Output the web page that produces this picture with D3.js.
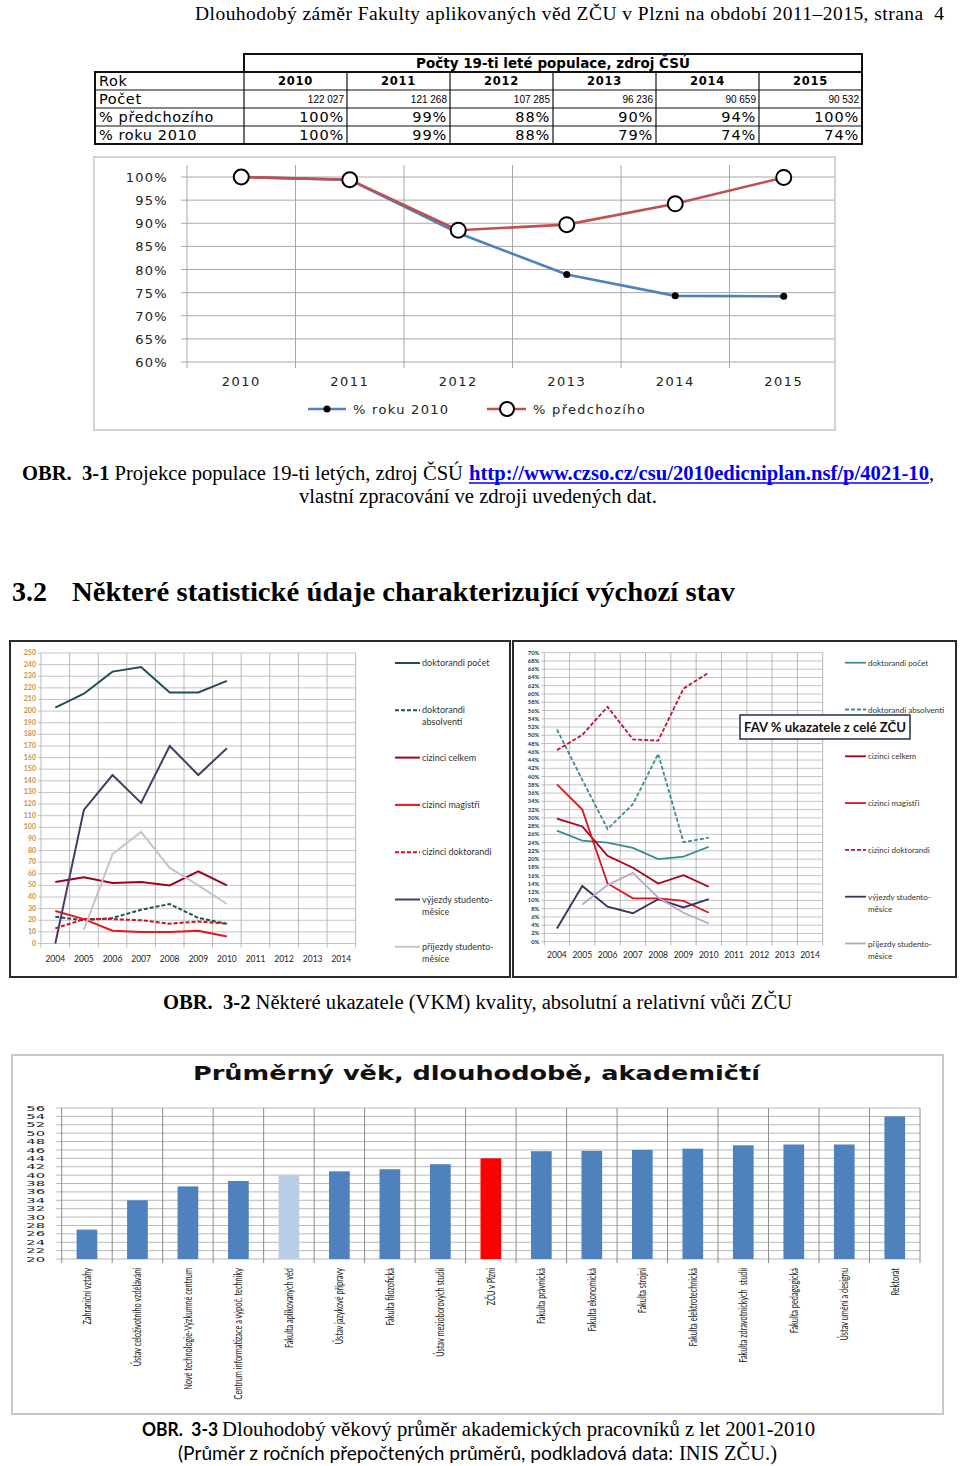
<!DOCTYPE html>
<html>
<head>
<meta charset="utf-8">
<script src="https://cdn.jsdelivr.net/npm/d3@7"></script>
<style>
body { margin: 0; background: #fff; }
svg { display: block; }
text { white-space: pre; }
</style>
</head>
<body>
<div id="page"></div>
<script>
const W = 960, H = 1466;
const SERIF = "'Liberation Serif', 'Times New Roman', serif";
const WIDE = "'DejaVu Sans', Verdana, sans-serif";
const SANS = "Lato, 'Open Sans', sans-serif";

// table + chart 3-1
const popYears = ["2010", "2011", "2012", "2013", "2014", "2015"];
const popCounts = ["122 027", "121 268", "107 285", "96 236", "90 659", "90 532"];
const pctPrevLabels = ["100%", "99%", "88%", "90%", "94%", "100%"];
const pct2010Labels = ["100%", "99%", "88%", "79%", "74%", "74%"];
const pctPrev = [1.000, 0.994, 0.885, 0.897, 0.942, 0.999];
const pct2010 = [1.000, 0.994, 0.879, 0.789, 0.743, 0.742];
const pctTicks = [0.60, 0.65, 0.70, 0.75, 0.80, 0.85, 0.90, 0.95, 1.00];

// chart 3-2 (two panels)
const vkmYears = ["2004", "2005", "2006", "2007", "2008", "2009", "2010", "2011", "2012", "2013", "2014"];
const vkmNames = ["doktorandi počet", "doktorandi absolventi", "cizinci celkem", "cizinci magistři",
    "cizinci doktorandi", "výjezdy studento-měsíce", "příjezdy studento-měsíce"];
const absTicks = d3.range(0, 251, 10);
const absDoktPocet = [203, 215, 234, 238, 216, 216, 226];
const absDoktAbsol = [23, 20, 22, 29, 34, 22, 17];
const absCizCelkem = [53, 57, 52, 53, 50, 62, 50];
const absCizMag = [28, 21, 11, 10, 10, 11, 6];
const absCizDokt = [13, 21, 21, 20, 17, 19, 17];
const absVyjezdy = [0, 115, 145, 121, 170, 145, 168];
const absPrijezdy = [null, 12, 77, 96, 65, 50, 34];

const relTicks = d3.range(0, 71, 2);
const relDoktPocet = [26.9, 24.5, 24.0, 22.7, 20.0, 20.6, 23.0];
const relDoktAbsol = [51.4, 39.2, 27.3, 33.3, 45.5, 24.1, 25.2];
const relCizCelkem = [29.8, 27.9, 20.8, 17.9, 14.1, 16.1, 13.3];
const relCizMag = [38.1, 32.0, 14.1, 10.5, 10.5, 9.9, 7.0];
const relCizDokt = [46.4, 50.1, 56.9, 49.0, 48.7, 61.3, 65.2];
const relVyjezdy = [3.2, 13.5, 8.5, 6.9, 10.3, 8.3, 10.3];
const relPrijezdy = [null, 9.0, 13.7, 16.7, 10.7, 7.0, 4.4];

// chart 3-3
const ageUnits = ["Zahraniční vztahy", "Ústav celoživotního vzdělávání", "Nové technologie-Výzkumné centrum",
    "Centrum informatizace a výpoč. techniky", "Fakulta aplikovaných věd", "Ústav jazykové přípravy",
    "Fakulta filozofická", "Ústav mezioborových studií", "ZČU v Plzni", "Fakulta právnická",
    "Fakulta ekonomická", "Fakulta strojní", "Fakulta elektrotechnická", "Fakulta zdravotnických  studií",
    "Fakulta pedagogická", "Ústav umění a designu", "Rektorát"];
const ageValues = [27.0, 34.0, 37.3, 38.6, 40.0, 40.9, 41.4, 42.6, 44.0, 45.7, 45.8, 46.0, 46.3, 47.1, 47.3, 47.3, 54.0];
const ageTicks = d3.range(20, 57, 2);

var svg = d3.select("#page").append("svg")
    .attr("width", W)
    .attr("height", H);
svg.append("rect").attr("width", W).attr("height", H).attr("fill", "#fff");

// page header
svg.append("text")
    .attr("x", 195).attr("y", 20)
    .attr("font-family", SERIF).attr("font-size", 19.5)
    .attr("textLength", 749).attr("lengthAdjust", "spacing")
    .text("Dlouhodobý záměr Fakulty aplikovaných věd ZČU v Plzni na období 2011–2015, strana  4");

// ---------- table ----------
var tx = d3.scaleBand().domain(popYears).range([244, 862]);
var rowTop = [72, 90, 108, 126];
var rowLabels = ["Rok", "Počet", "% předchozího", "% roku 2010"];
var tbl = svg.append("g").attr("stroke", "#111").attr("fill", "none");
tbl.append("rect").attr("x", 244).attr("y", 54).attr("width", 618).attr("height", 18).attr("stroke-width", 2);
tbl.append("rect").attr("x", 95).attr("y", 72).attr("width", 767).attr("height", 72).attr("stroke-width", 2);
rowTop.slice(1).forEach(function(y){
    tbl.append("line").attr("x1", 95).attr("x2", 862).attr("y1", y).attr("y2", y).attr("stroke-width", 1.2);
});
popYears.forEach(function(d){
    tbl.append("line").attr("x1", tx(d)).attr("x2", tx(d)).attr("y1", 72).attr("y2", 144).attr("stroke-width", 1.2);
});

svg.append("text")
    .attr("x", 553).attr("y", 68)
    .attr("text-anchor", "middle")
    .attr("font-family", WIDE).attr("font-size", 13.5).attr("font-weight", "bold")
    .text("Počty 19-ti leté populace, zdroj ČSÚ");

rowLabels.forEach(function(l, i){
    svg.append("text")
        .attr("x", 99).attr("y", rowTop[i] + 14)
        .attr("font-family", WIDE).attr("font-size", 14.5).attr("letter-spacing", 0.6)
        .text(l);
});

var cells = svg.append("g");
popYears.forEach(function(d, i){
    var right = tx(d) + tx.bandwidth() - 3;
    cells.append("text")
        .attr("x", tx(d) + tx.bandwidth() / 2).attr("y", rowTop[0] + 13)
        .attr("text-anchor", "middle")
        .attr("font-family", WIDE).attr("font-size", 11.5).attr("font-weight", "bold").attr("letter-spacing", 0.8)
        .text(d);
    cells.append("text")
        .attr("x", right).attr("y", rowTop[1] + 13)
        .attr("text-anchor", "end")
        .attr("font-family", "'Liberation Sans', Arial, sans-serif").attr("font-size", 10)
        .text(popCounts[i]);
    cells.append("text")
        .attr("x", right).attr("y", rowTop[2] + 14)
        .attr("text-anchor", "end")
        .attr("font-family", WIDE).attr("font-size", 14.5).attr("letter-spacing", 0.8)
        .text(pctPrevLabels[i]);
    cells.append("text")
        .attr("x", right).attr("y", rowTop[3] + 14)
        .attr("text-anchor", "end")
        .attr("font-family", WIDE).attr("font-size", 14.5).attr("letter-spacing", 0.8)
        .text(pct2010Labels[i]);
});

// ---------- chart 3-1 ----------
var c1 = svg.append("g");
c1.append("rect")
    .attr("x", 94).attr("y", 157).attr("width", 741).attr("height", 273)
    .attr("fill", "none").attr("stroke", "#d2d2d2").attr("stroke-width", 2);

var px = d3.scaleBand().domain(popYears).range([187, 838]);
var py = d3.scaleLinear().domain([0.6, 1.0]).range([362, 177]);

c1.selectAll(".hgrid").data(pctTicks).enter().append("line")
    .attr("x1", 181).attr("x2", 834)
    .attr("y1", function(d){ return py(d); }).attr("y2", function(d){ return py(d); })
    .attr("stroke", "#a8a8a8").attr("stroke-width", 1);
c1.selectAll(".vgrid").data(popYears).enter().append("line")
    .attr("x1", function(d){ return px(d); }).attr("x2", function(d){ return px(d); })
    .attr("y1", 165).attr("y2", 368)
    .attr("stroke", "#a8a8a8").attr("stroke-width", 1);

c1.selectAll(".ylab").data(pctTicks).enter().append("text")
    .attr("x", 168).attr("y", function(d){ return py(d) + 5; })
    .attr("text-anchor", "end")
    .attr("font-family", WIDE).attr("font-size", 13).attr("letter-spacing", 1.3).attr("fill", "#222")
    .text(d3.format(".0%"));
c1.selectAll(".xlab").data(popYears).enter().append("text")
    .attr("x", function(d){ return px(d) + px.bandwidth() / 2; }).attr("y", 386)
    .attr("text-anchor", "middle")
    .attr("font-family", WIDE).attr("font-size", 13).attr("letter-spacing", 1.5).attr("fill", "#222")
    .text(function(d){ return d; });

var pline = d3.line()
    .x(function(d, i){ return px(popYears[i]) + px.bandwidth() / 2; })
    .y(function(d){ return py(d); });
c1.append("path").datum(pct2010).attr("d", pline)
    .attr("fill", "none").attr("stroke", "#4F81BD").attr("stroke-width", 2.6);
c1.append("path").datum(pctPrev).attr("d", pline)
    .attr("fill", "none").attr("stroke", "#C0504D").attr("stroke-width", 2.6);
c1.selectAll(".dot").data(pct2010).enter().append("circle")
    .attr("cx", function(d, i){ return px(popYears[i]) + px.bandwidth() / 2; })
    .attr("cy", function(d){ return py(d); })
    .attr("r", 3.5).attr("fill", "#000");
c1.selectAll(".ring").data(pctPrev).enter().append("circle")
    .attr("cx", function(d, i){ return px(popYears[i]) + px.bandwidth() / 2; })
    .attr("cy", function(d){ return py(d); })
    .attr("r", 7.5).attr("fill", "#fff").attr("stroke", "#000").attr("stroke-width", 2);

// legend
c1.append("line").attr("x1", 308).attr("x2", 346).attr("y1", 409).attr("y2", 409)
    .attr("stroke", "#4F81BD").attr("stroke-width", 2.6);
c1.append("circle").attr("cx", 327).attr("cy", 409).attr("r", 3.5).attr("fill", "#000");
c1.append("text").attr("x", 353).attr("y", 414)
    .attr("font-family", WIDE).attr("font-size", 13).attr("letter-spacing", 1.3).attr("fill", "#222")
    .text("% roku 2010");
c1.append("line").attr("x1", 487).attr("x2", 526).attr("y1", 409).attr("y2", 409)
    .attr("stroke", "#C0504D").attr("stroke-width", 2.6);
c1.append("circle").attr("cx", 507).attr("cy", 409).attr("r", 7).attr("fill", "#fff")
    .attr("stroke", "#000").attr("stroke-width", 2);
c1.append("text").attr("x", 533).attr("y", 414)
    .attr("font-family", WIDE).attr("font-size", 13).attr("letter-spacing", 1.3).attr("fill", "#222")
    .text("% předchozího");

// caption 3-1
var cap1 = svg.append("text")
    .attr("x", 22).attr("y", 480)
    .attr("font-family", SERIF).attr("font-size", 20)
    .attr("textLength", 441).attr("lengthAdjust", "spacingAndGlyphs");
cap1.append("tspan").attr("font-weight", "bold").text("OBR.  3-1");
cap1.append("tspan").text(" Projekce populace 19-ti letých, zdroj ČSÚ");
svg.append("text")
    .attr("x", 469).attr("y", 480)
    .attr("font-family", SERIF).attr("font-size", 20).attr("font-weight", "bold").attr("fill", "#0000EE")
    .attr("textLength", 460).attr("lengthAdjust", "spacingAndGlyphs")
    .text("http://www.czso.cz/csu/2010edicniplan.nsf/p/4021-10");
svg.append("line").attr("x1", 469).attr("x2", 929).attr("y1", 483).attr("y2", 483)
    .attr("stroke", "#0000EE").attr("stroke-width", 1.3);
svg.append("text").attr("x", 929).attr("y", 480)
    .attr("font-family", SERIF).attr("font-size", 20).text(",");
svg.append("text")
    .attr("x", 299).attr("y", 503)
    .attr("font-family", SERIF).attr("font-size", 20)
    .attr("textLength", 358).attr("lengthAdjust", "spacingAndGlyphs")
    .text("vlastní zpracování ve zdroji uvedených dat.");

// section heading
svg.append("text").attr("x", 12).attr("y", 601)
    .attr("font-family", SERIF).attr("font-size", 28).attr("font-weight", "bold")
    .text("3.2");
svg.append("text").attr("x", 72).attr("y", 601)
    .attr("font-family", SERIF).attr("font-size", 28).attr("font-weight", "bold")
    .attr("textLength", 663).attr("lengthAdjust", "spacingAndGlyphs")
    .text("Některé statistické údaje charakterizující výchozí stav");

// ---------- chart 3-2 ----------
function legendLines(name, narrow){
    if (name.indexOf("-") >= 0) return name.replace("-", "-\n").split("\n");
    if (narrow && name === "doktorandi absolventi") return name.split(" ");
    return [name];
}

function drawPanel(p){
    var g = svg.append("g");
    g.append("rect")
        .attr("x", p.frame[0]).attr("y", p.frame[1]).attr("width", p.frame[2]).attr("height", p.frame[3])
        .attr("fill", "#fff").attr("stroke", "#2a2a2a").attr("stroke-width", 2);

    var x = d3.scaleBand().domain(vkmYears).range(p.xRange);
    var y = d3.scaleLinear().domain(p.yDomain).range(p.yRange);
    var x0 = p.xRange[0], x1 = p.xRange[1];

    g.selectAll(".hg").data(p.ticks).enter().append("line")
        .attr("x1", x0 - 3).attr("x2", x1)
        .attr("y1", function(d){ return y(d); }).attr("y2", function(d){ return y(d); })
        .attr("stroke", "#bdbdbd").attr("stroke-width", 0.9);
    g.selectAll(".vg").data(vkmYears).enter().append("line")
        .attr("x1", function(d){ return x(d); }).attr("x2", function(d){ return x(d); })
        .attr("y1", p.yRange[1]).attr("y2", p.yRange[0] + 4)
        .attr("stroke", "#b0b0b0").attr("stroke-width", 0.9);
    g.append("line")
        .attr("x1", x1).attr("x2", x1).attr("y1", p.yRange[1]).attr("y2", p.yRange[0] + 4)
        .attr("stroke", "#b0b0b0").attr("stroke-width", 0.9);

    g.selectAll(".yl").data(p.ticks).enter().append("text")
        .attr("x", x0 - 5).attr("y", function(d){ return y(d) + 2; })
        .attr("text-anchor", "end")
        .attr("font-family", SANS).attr("font-size", p.yFont).attr("font-weight", "bold")
        .attr("fill", p.yColor)
        .text(p.yFormat);
    g.selectAll(".xl").data(vkmYears).enter().append("text")
        .attr("x", function(d){ return x(d) + x.bandwidth() / 2; }).attr("y", p.xLabelY)
        .attr("text-anchor", "middle")
        .attr("font-family", SANS).attr("font-size", 8.5).attr("fill", "#222")
        .text(function(d){ return d; });

    var line = d3.line()
        .defined(function(d){ return d != null; })
        .x(function(d, i){ return x(vkmYears[i]) + x.bandwidth() / 2; })
        .y(function(d){ return y(d); });
    p.series.forEach(function(s, k){
        g.append("path").datum(s)
            .attr("d", line)
            .attr("fill", "none")
            .attr("stroke", p.colors[k])
            .attr("stroke-width", p.lineWidth)
            .attr("stroke-dasharray", p.dashes[k]);
    });

    // legend
    vkmNames.forEach(function(name, k){
        var ly = p.legendY + k * p.legendStep;
        g.append("line")
            .attr("x1", p.legendX).attr("x2", p.legendX + p.legendLen)
            .attr("y1", ly).attr("y2", ly)
            .attr("stroke", p.colors[k]).attr("stroke-width", p.lineWidth)
            .attr("stroke-dasharray", p.dashes[k]);
        var t = g.append("text")
            .attr("font-family", SANS).attr("font-size", p.legendFont).attr("fill", "#333");
        legendLines(name, p.narrow).forEach(function(l, j){
            t.append("tspan")
                .attr("x", p.legendX + p.legendLen + 2)
                .attr("y", ly + 3 + j * 12)
                .text(l);
        });
    });
    return g;
}

drawPanel({
    frame: [10, 641, 500, 336],
    xRange: [41, 355.6], yDomain: [0, 250], yRange: [943.5, 653],
    ticks: absTicks, yFont: 7, yColor: "#C98F4B",
    yFormat: function(d){ return d; },
    xLabelY: 962,
    series: [absDoktPocet, absDoktAbsol, absCizCelkem, absCizMag, absCizDokt, absVyjezdy, absPrijezdy],
    colors: ["#1E5156", "#1E5156", "#A0001E", "#E8141E", "#D0101E", "#4B3A66", "#C4C4CC"],
    dashes: [null, "4,2", null, null, "4,2", null, null],
    lineWidth: 2,
    legendX: 395, legendLen: 25, legendY: 663, legendStep: 47.3, legendFont: 9, narrow: true
});

var right = drawPanel({
    frame: [513, 641, 443, 336],
    xRange: [544.3, 822.7], yDomain: [0, 70], yRange: [941.7, 652.7],
    ticks: relTicks, yFont: 5.8, yColor: "#333",
    yFormat: function(d){ return d + "%"; },
    xLabelY: 958,
    series: [relDoktPocet, relDoktAbsol, relCizCelkem, relCizMag, relCizDokt, relVyjezdy, relPrijezdy],
    colors: ["#3A8C98", "#3A8C98", "#A8001A", "#E0141E", "#C8102E", "#3E3058", "#B9A6CC"],
    dashes: [null, "4,2", null, null, "4,2", null, null],
    lineWidth: 1.8,
    legendX: 845, legendLen: 21, legendY: 662.7, legendStep: 46.8, legendFont: 8, narrow: false
});

right.append("rect")
    .attr("x", 740).attr("y", 715).attr("width", 170).attr("height", 24)
    .attr("fill", "#fff").attr("stroke", "#1F2F4F").attr("stroke-width", 1.5);
right.append("text")
    .attr("x", 744).attr("y", 732)
    .attr("font-family", SANS).attr("font-size", 14).attr("font-weight", "bold").attr("fill", "#111")
    .attr("textLength", 162).attr("lengthAdjust", "spacingAndGlyphs")
    .text("FAV % ukazatele z celé ZČU");

// caption 3-2
var cap2 = svg.append("text")
    .attr("x", 163).attr("y", 1009)
    .attr("font-family", SERIF).attr("font-size", 20)
    .attr("textLength", 629).attr("lengthAdjust", "spacingAndGlyphs");
cap2.append("tspan").attr("font-weight", "bold").text("OBR.  3-2");
cap2.append("tspan").text(" Některé ukazatele (VKM) kvality, absolutní a relativní vůči ZČU");

// ---------- chart 3-3 ----------
var c3 = svg.append("g");
c3.append("rect")
    .attr("x", 12).attr("y", 1055).attr("width", 931).attr("height", 359)
    .attr("fill", "none").attr("stroke", "#c8c8c8").attr("stroke-width", 2);

c3.append("text")
    .attr("x", 193).attr("y", 1080)
    .attr("font-family", WIDE).attr("font-size", 19).attr("font-weight", "bold").attr("fill", "#111")
    .attr("textLength", 567).attr("lengthAdjust", "spacingAndGlyphs")
    .text("Průměrný věk, dlouhodobě, akademičtí");

var bx = d3.scaleBand().domain(ageUnits).range([61.7, 920]);
var by = d3.scaleLinear().domain([20, 56]).range([1259, 1108]);

c3.selectAll(".hg").data(ageTicks).enter().append("line")
    .attr("x1", 56).attr("x2", 920)
    .attr("y1", function(d){ return by(d); }).attr("y2", function(d){ return by(d); })
    .attr("stroke", "#b8b8b8").attr("stroke-width", 1);
c3.selectAll(".vg").data(ageUnits).enter().append("line")
    .attr("x1", function(d){ return bx(d); }).attr("x2", function(d){ return bx(d); })
    .attr("y1", 1108).attr("y2", 1263)
    .attr("stroke", "#8c8c8c").attr("stroke-width", 1);
c3.append("line").attr("x1", 920).attr("x2", 920).attr("y1", 1108).attr("y2", 1263)
    .attr("stroke", "#8c8c8c").attr("stroke-width", 1);

// y labels: wide and squat, packed tight like the original
c3.selectAll(".yl").data(ageTicks).enter().append("text")
    .attr("transform", function(d){ return "translate(45," + by(d) + ") scale(1.6,0.78)"; })
    .attr("dy", "0.36em")
    .attr("text-anchor", "end")
    .attr("font-family", WIDE).attr("font-size", 9.2).attr("fill", "#222")
    .text(function(d){ return d; });

var barW = bx.bandwidth() * 0.41;
c3.selectAll(".bar").data(ageValues).enter().append("rect")
    .attr("x", function(d, i){ return bx(ageUnits[i]) + (bx.bandwidth() - barW) / 2; })
    .attr("y", function(d){ return by(d); })
    .attr("width", barW)
    .attr("height", function(d){ return by(20) - by(d); })
    .attr("fill", function(d, i){
        if (ageUnits[i] === "Fakulta aplikovaných věd") return "#B9CDE5";
        if (ageUnits[i] === "ZČU v Plzni") return "#FF0000";
        return "#4F81BD";
    });

c3.selectAll(".xl").data(ageUnits).enter().append("text")
    .attr("transform", function(d){
        return "translate(" + (bx(d) + bx.bandwidth() / 2) + ",1268) rotate(-90) scale(0.64,1)";
    })
    .attr("dy", "0.35em")
    .attr("text-anchor", "end")
    .attr("font-family", SANS).attr("font-size", 11.5).attr("fill", "#222")
    .text(function(d){ return d; });

// caption 3-3
svg.append("text").attr("x", 142).attr("y", 1436)
    .attr("font-family", SANS).attr("font-size", 19).attr("font-weight", "bold")
    .attr("textLength", 76).attr("lengthAdjust", "spacingAndGlyphs")
    .text("OBR.  3-3");
svg.append("text").attr("x", 222).attr("y", 1436)
    .attr("font-family", SERIF).attr("font-size", 21)
    .attr("textLength", 593).attr("lengthAdjust", "spacingAndGlyphs")
    .text("Dlouhodobý věkový průměr akademických pracovníků z let 2001-2010");
svg.append("text").attr("x", 178).attr("y", 1460)
    .attr("font-family", SANS).attr("font-size", 19)
    .attr("textLength", 495).attr("lengthAdjust", "spacingAndGlyphs")
    .text("(Průměr z ročních přepočtených průměrů, podkladová data:");
svg.append("text").attr("x", 679).attr("y", 1460)
    .attr("font-family", SERIF).attr("font-size", 21)
    .attr("textLength", 98).attr("lengthAdjust", "spacingAndGlyphs")
    .text("INIS ZČU.)");
</script>
</body>
</html>
